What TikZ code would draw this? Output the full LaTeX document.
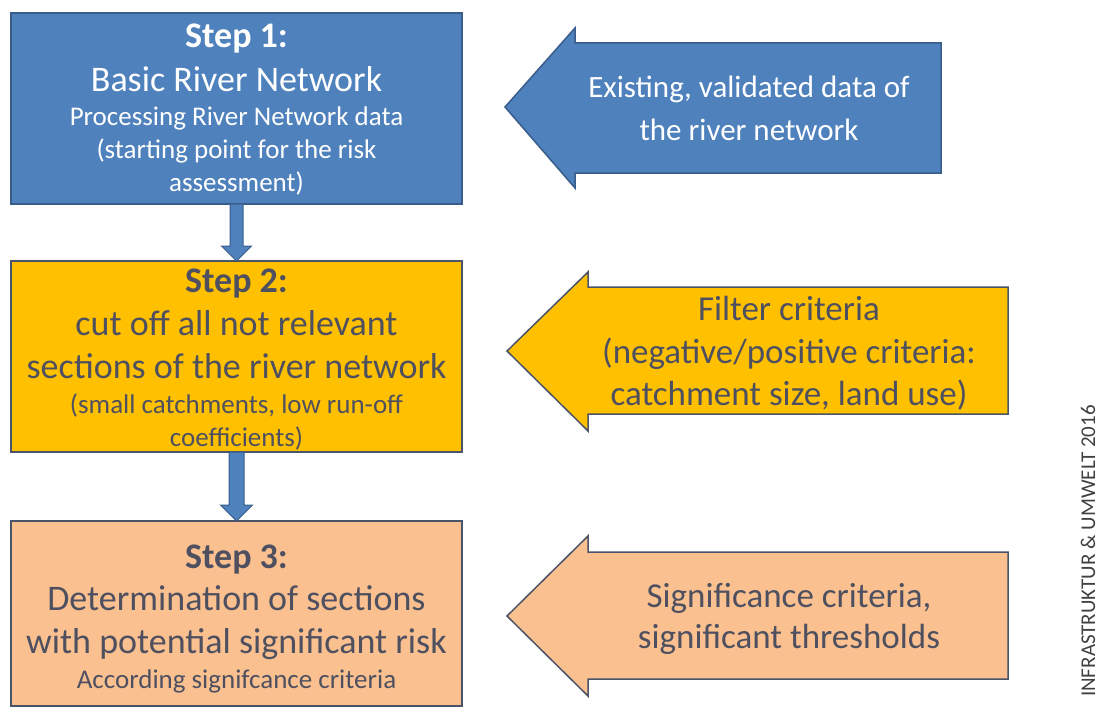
\documentclass[tikz,border=0pt]{standalone}
\usepackage{fontspec}
\setmainfont{Carlito}
\usetikzlibrary{calc}
\definecolor{stepblue}{HTML}{4F81BD}
\definecolor{blueline}{HTML}{385D8A}
\definecolor{stepyellow}{HTML}{FFC000}
\definecolor{steporange}{HTML}{FAC090}
\definecolor{darkline}{HTML}{4A5468}
\definecolor{darktext}{HTML}{4E5060}
\definecolor{notegray}{HTML}{404040}
\begin{document}
\begin{tikzpicture}[x=1pt,y=-1pt,
  box/.style={draw, line width=2pt, minimum width=451pt, inner sep=0pt, outer sep=0pt},
  txt/.style={anchor=base, inner sep=0pt, outer sep=0pt},
  head/.style={txt, font=\fontsize{36}{43}\selectfont\bfseries},
  big/.style={txt, font=\fontsize{36}{43}\selectfont},
  small/.style={txt, font=\fontsize{27}{33}\selectfont},
  side/.style={txt, font=\fontsize{35}{43}\selectfont},
  sideone/.style={txt, font=\fontsize{31}{38}\selectfont},
  bigarrow/.style={line width=1.5pt, line join=miter},
  downarrow/.style={draw=blueline, fill=stepblue, line width=1pt}]
\useasboundingbox (0,0) rectangle (1100,709);

% step boxes
\node[box, fill=stepblue, draw=blueline, minimum height=191pt] (b1) at (236.5,108.5) {};
\node[box, fill=stepyellow, draw=darkline, minimum height=191pt] (b2) at (236.5,356.5) {};
\node[box, fill=steporange, draw=darkline, minimum height=185pt] (b3) at (236.5,613.5) {};

% box texts
\begin{scope}[text=white]
\node[head] (b1t1) at (236.5,48) {Step 1:};
\node[big] (b1t2) at (236.5,92) {Basic River Network};
\node[small] (b1t3) at (236.5,125) {Processing River Network data};
\node[small] (b1t4) at (236.5,158) {(starting point for the risk};
\node[small] (b1t5) at (236.5,191) {assessment)};
\end{scope}
\begin{scope}[text=darktext]
\node[head] (b2t1) at (236.5,292) {Step 2:};
\node[big] (b2t2) at (236.5,335) {cut off all not relevant};
\node[big] (b2t3) at (236.5,378) {sections of the river network};
\node[small] (b2t4) at (236.5,413) {(small catchments, low run-off};
\node[small] (b2t5) at (236.5,446) {coefficients)};
\node[head] (b3t1) at (236.5,568) {Step 3:};
\node[big] (b3t2) at (236.5,610) {Determination of sections};
\node[big] (b3t3) at (236.5,653) {with potential significant risk};
\node[small] (b3t4) at (236.5,688) {According signifcance criteria};
\end{scope}

% down arrows between boxes
\draw[downarrow] ($(b1.south)+(-6.5,0)$) -- ($(b2.north)+(-6.5,-15)$) -- ($(b2.north)+(-15,-15)$)
  -- (b2.north) -- ($(b2.north)+(15,-15)$) -- ($(b2.north)+(6.5,-15)$) -- ($(b1.south)+(6.5,0)$) -- cycle;
\draw[downarrow] ($(b2.south)+(-7.5,0)$) -- ($(b3.north)+(-7.5,-16)$) -- ($(b3.north)+(-16,-16)$)
  -- (b3.north) -- ($(b3.north)+(16,-16)$) -- ($(b3.north)+(7.5,-16)$) -- ($(b2.south)+(7.5,0)$) -- cycle;

% input arrows
\draw[bigarrow, draw=blueline, fill=stepblue] (505,107) -- (575,28) -- (575,43) -- (941,43)
  -- (941,173) -- (575,173) -- (575,188) -- cycle;
\draw[bigarrow, draw=darkline, fill=stepyellow] (507,351) -- (588,272) -- (588,287) -- (1008,287)
  -- (1008,414) -- (588,414) -- (588,431) -- cycle;
\draw[bigarrow, draw=darkline, fill=steporange] (507,616) -- (588,536) -- (588,552) -- (1008,552)
  -- (1008,679) -- (588,679) -- (588,696) -- cycle;

\node[sideone, text=white] (a1t1) at (749,97) {Existing, validated data of};
\node[sideone, text=white] (a1t2) at (749,140) {the river network};
\begin{scope}[text=darktext]
\node[side] (a2t1) at (789,320) {Filter criteria};
\node[side] (a2t2) at (789,363) {(negative/positive criteria:};
\node[side] (a2t3) at (789,405) {catchment size, land use)};
\node[side] (a3t1) at (789,607) {Significance criteria,};
\node[side] (a3t2) at (789,648) {significant thresholds};
\end{scope}

% credit
\node[txt, rotate=90, text=notegray, font=\fontsize{21}{25}\selectfont] (note) at (1095,551) {INFRASTRUKTUR \& UMWELT 2016};
\end{tikzpicture}
\end{document}
